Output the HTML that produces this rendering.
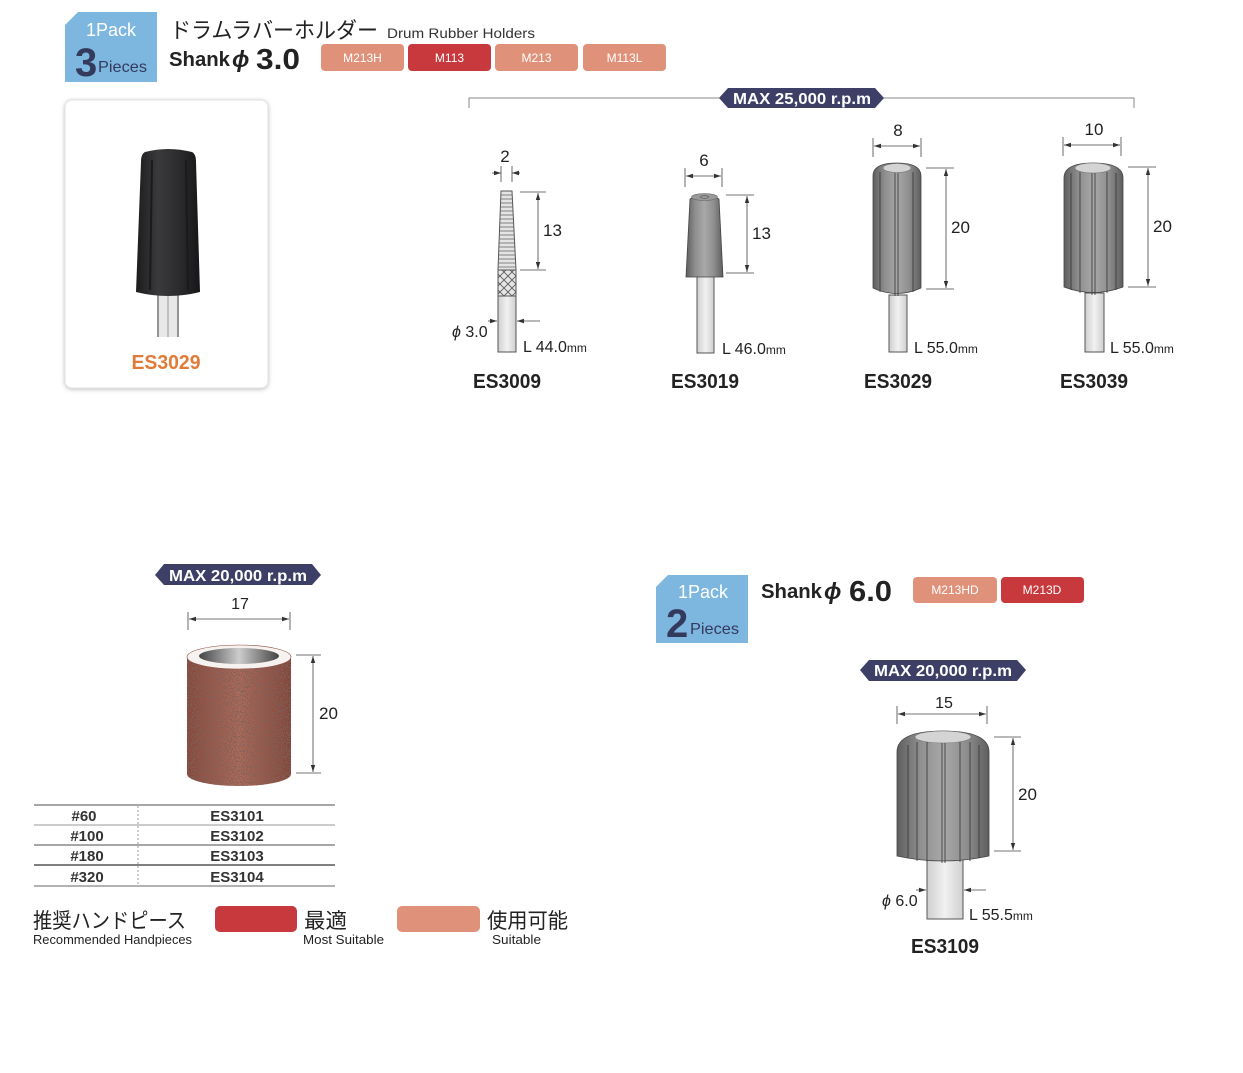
<!DOCTYPE html>
<html><head><meta charset="utf-8">
<style>
html,body{margin:0;padding:0;background:#fff;}
svg{display:block;}
text{font-family:"Liberation Sans","Noto Sans CJK JP",sans-serif;}
</style></head>
<body>
<svg width="1243" height="1073" viewBox="0 0 1243 1073" xmlns="http://www.w3.org/2000/svg">
<defs>
  <marker id="ar" markerWidth="8" markerHeight="6" refX="7" refY="3" orient="auto-start-reverse" markerUnits="userSpaceOnUse">
    <path d="M0,0.8 L7,3 L0,5.2 z" fill="#333"/>
  </marker>
  <linearGradient id="rub" x1="0" x2="1" y1="0" y2="0">
    <stop offset="0" stop-color="#5e5e5e"/>
    <stop offset="0.25" stop-color="#8f8f8f"/>
    <stop offset="0.5" stop-color="#a8a8a8"/>
    <stop offset="0.75" stop-color="#8f8f8f"/>
    <stop offset="1" stop-color="#5e5e5e"/>
  </linearGradient>
  <linearGradient id="sh" x1="0" x2="1" y1="0" y2="0">
    <stop offset="0" stop-color="#cfcfcf"/>
    <stop offset="0.5" stop-color="#f1f1f1"/>
    <stop offset="1" stop-color="#cfcfcf"/>
  </linearGradient>
  <linearGradient id="blk" x1="0" x2="1" y1="0" y2="0">
    <stop offset="0" stop-color="#1c1c1e"/>
    <stop offset="0.35" stop-color="#3a3a3d"/>
    <stop offset="0.7" stop-color="#2a2a2c"/>
    <stop offset="1" stop-color="#161618"/>
  </linearGradient>
  <linearGradient id="band" x1="0" x2="1" y1="0" y2="0">
    <stop offset="0" stop-color="#874537"/>
    <stop offset="0.5" stop-color="#b06a58"/>
    <stop offset="1" stop-color="#834335"/>
  </linearGradient>
  <linearGradient id="hole" x1="0" x2="1" y1="0" y2="0">
    <stop offset="0" stop-color="#444"/>
    <stop offset="0.5" stop-color="#ccc"/>
    <stop offset="1" stop-color="#444"/>
  </linearGradient>
  <filter id="speck" x="0" y="0" width="1" height="1">
    <feTurbulence type="fractalNoise" baseFrequency="0.8" numOctaves="3" seed="7"/>
    <feColorMatrix type="matrix" values="0 0 0 0 0.2  0 0 0 0 0.12  0 0 0 0 0.11  14 0 0 0 -7.2"/>
  </filter>
  <clipPath id="bandclip"><path d="M187,657 A52,12 0 0 1 291,657 L291,774 A52,12 0 0 1 187,774 Z"/></clipPath>
  <pattern id="knurl" width="8" height="8" patternUnits="userSpaceOnUse">
    <path d="M0,0 L8,8 M8,0 L0,8" stroke="#555" stroke-width="0.8"/>
  </pattern>
  <filter id="shadow" x="-10%" y="-10%" width="120%" height="120%">
    <feDropShadow dx="0" dy="1" stdDeviation="2" flood-color="#000" flood-opacity="0.25"/>
  </filter>
</defs>

<!-- ===== Top header ===== -->
<path d="M78,12 L157,12 L157,82 L65,82 L65,25 Z" fill="#7db7e0"/>
<text x="111" y="36" font-size="18" fill="#fff" text-anchor="middle">1Pack</text>
<text x="75" y="76" font-size="40" font-weight="bold" fill="#333a5c">3</text>
<text x="98" y="72" font-size="16" fill="#333a5c" textLength="49" lengthAdjust="spacingAndGlyphs">Pieces</text>

<text x="170" y="38" font-size="22" fill="#222" textLength="208" lengthAdjust="spacingAndGlyphs">ドラムラバーホルダー</text>
<text x="387" y="38" font-size="14" fill="#333" textLength="148" lengthAdjust="spacingAndGlyphs">Drum Rubber Holders</text>
<text x="169" y="66" font-size="20" font-weight="bold" fill="#222" textLength="61" lengthAdjust="spacingAndGlyphs">Shank</text>
<text x="232" y="67" font-size="23" font-style="italic" font-weight="bold" fill="#222">ϕ</text>
<text x="256" y="69" font-size="29" font-weight="bold" fill="#222" textLength="44" lengthAdjust="spacingAndGlyphs">3.0</text>

<rect x="321" y="44" width="83" height="27" rx="4" fill="#e0917a"/>
<text x="362.5" y="62" font-size="12" fill="#fff" text-anchor="middle">M213H</text>
<rect x="408" y="44" width="83" height="27" rx="4" fill="#c8393d"/>
<text x="449.5" y="62" font-size="12" fill="#fff" text-anchor="middle">M113</text>
<rect x="495" y="44" width="83" height="27" rx="4" fill="#e0917a"/>
<text x="536.5" y="62" font-size="12" fill="#fff" text-anchor="middle">M213</text>
<rect x="583" y="44" width="83" height="27" rx="4" fill="#e0917a"/>
<text x="624.5" y="62" font-size="12" fill="#fff" text-anchor="middle">M113L</text>

<!-- ===== Left card ===== -->
<rect x="65" y="100" width="203" height="288" rx="7" fill="#fff" stroke="#e2e2e2" filter="url(#shadow)"/>
<rect x="157" y="292" width="22" height="45" fill="#e8e8e8"/>
<line x1="158" y1="292" x2="158" y2="337" stroke="#777" stroke-width="1.5"/>
<line x1="168" y1="292" x2="168" y2="337" stroke="#999" stroke-width="1"/>
<line x1="178" y1="292" x2="178" y2="337" stroke="#777" stroke-width="1.5"/>
<path d="M145,152 Q168,146 192,152 Q196,154 196,162 L200,292 Q168,300 136,292 L141,162 Q141,154 145,152 Z" fill="url(#blk)"/>
<line x1="152" y1="160" x2="150" y2="290" stroke="#1a1a1a" stroke-width="2"/>
<line x1="186" y1="160" x2="188" y2="290" stroke="#1a1a1a" stroke-width="2"/>
<text x="166" y="369" font-size="20" font-weight="bold" fill="#e07b39" text-anchor="middle" textLength="69" lengthAdjust="spacingAndGlyphs">ES3029</text>

<!-- ===== MAX 25,000 bar ===== -->
<polyline points="469,108 469,98 722,98" fill="none" stroke="#888" stroke-width="1"/>
<polyline points="880,98 1134,98 1134,108" fill="none" stroke="#888" stroke-width="1"/>
<polygon points="719,98 728,88 875,88 884,98 875,108 728,108" fill="#3d3f66"/>
<text x="802" y="104" font-size="16" font-weight="bold" fill="#fff" text-anchor="middle" textLength="138" lengthAdjust="spacingAndGlyphs">MAX 25,000 r.p.m</text>

<!-- ===== ES3009 ===== -->
<rect x="498" y="296" width="18" height="56" fill="url(#sh)" stroke="#555" stroke-width="1"/>
<rect x="498" y="270" width="18" height="26" fill="#e6e6e6"/>
<rect x="498" y="270" width="18" height="26" fill="url(#knurl)" stroke="#555" stroke-width="1"/>
<path d="M501,191 L512,191 L516,270 L498,270 Z" fill="#e4e4e4" stroke="#555" stroke-width="1"/>
<g stroke="#666" stroke-width="0.8">
<line x1="501" y1="195" x2="512" y2="195"/><line x1="501" y1="199" x2="512" y2="199"/>
<line x1="501" y1="203" x2="512" y2="203"/><line x1="500" y1="207" x2="513" y2="207"/>
<line x1="500" y1="211" x2="513" y2="211"/><line x1="500" y1="215" x2="513" y2="215"/>
<line x1="500" y1="219" x2="513" y2="219"/><line x1="500" y1="223" x2="514" y2="223"/>
<line x1="500" y1="227" x2="514" y2="227"/><line x1="500" y1="231" x2="514" y2="231"/>
<line x1="499" y1="235" x2="514" y2="235"/><line x1="499" y1="239" x2="514" y2="239"/>
<line x1="499" y1="243" x2="515" y2="243"/><line x1="499" y1="247" x2="515" y2="247"/>
<line x1="499" y1="251" x2="515" y2="251"/><line x1="499" y1="255" x2="515" y2="255"/>
<line x1="499" y1="259" x2="515" y2="259"/><line x1="498" y1="263" x2="516" y2="263"/>
<line x1="498" y1="267" x2="516" y2="267"/>
</g>
<text x="505" y="162" font-size="17" fill="#222" text-anchor="middle">2</text>
<g stroke="#444" stroke-width="0.8" fill="none">
<line x1="501" y1="166" x2="501" y2="182"/><line x1="512" y1="166" x2="512" y2="182"/>
<line x1="492" y1="173" x2="501" y2="173" marker-end="url(#ar)"/>
<line x1="520" y1="173" x2="512" y2="173" marker-end="url(#ar)"/>
<line x1="520" y1="192" x2="546" y2="192"/><line x1="520" y1="270" x2="546" y2="270"/>
<line x1="538" y1="193" x2="538" y2="269" marker-start="url(#ar)" marker-end="url(#ar)"/>
<line x1="488" y1="321" x2="497" y2="321" marker-end="url(#ar)"/>
<line x1="540" y1="321" x2="517" y2="321" marker-end="url(#ar)"/>
</g>
<text x="543" y="236" font-size="17" fill="#222">13</text>
<text x="452" y="337" font-size="16" fill="#222"><tspan font-style="italic">ϕ</tspan> 3.0</text>
<text x="523" y="352" font-size="16" fill="#222">L 44.0<tspan font-size="12">mm</tspan></text>
<text x="507" y="388" font-size="20" font-weight="bold" fill="#222" text-anchor="middle" textLength="68" lengthAdjust="spacingAndGlyphs">ES3009</text>

<!-- ===== ES3019 ===== -->
<rect x="697" y="276" width="17" height="77" fill="url(#sh)" stroke="#555" stroke-width="1"/>
<path d="M690,199 Q704,191 719,199 L723,277 L686,277 Z" fill="url(#rub)" stroke="#444" stroke-width="0.8"/>
<ellipse cx="704.5" cy="197" rx="13" ry="3.5" fill="#9a9a9a" stroke="#666" stroke-width="0.6"/>
<ellipse cx="704.5" cy="197" rx="4" ry="1.3" fill="none" stroke="#555" stroke-width="0.6"/>
<text x="704" y="166" font-size="17" fill="#222" text-anchor="middle">6</text>
<g stroke="#444" stroke-width="0.8" fill="none">
<line x1="685" y1="168" x2="685" y2="187"/><line x1="722" y1="168" x2="722" y2="187"/>
<line x1="686" y1="176" x2="721" y2="176" marker-start="url(#ar)" marker-end="url(#ar)"/>
<line x1="726" y1="195" x2="754" y2="195"/><line x1="726" y1="273" x2="754" y2="273"/>
<line x1="747" y1="196" x2="747" y2="272" marker-start="url(#ar)" marker-end="url(#ar)"/>
</g>
<text x="752" y="239" font-size="17" fill="#222">13</text>
<text x="722" y="354" font-size="16" fill="#222">L 46.0<tspan font-size="12">mm</tspan></text>
<text x="705" y="388" font-size="20" font-weight="bold" fill="#222" text-anchor="middle" textLength="68" lengthAdjust="spacingAndGlyphs">ES3019</text>

<!-- ===== ES3029 ===== -->
<rect x="889" y="295" width="18" height="57" fill="url(#sh)" stroke="#555" stroke-width="1"/>
<path d="M873,176 Q873,163 897,163 Q921,163 921,176 L921,288 Q897,299 873,288 Z" fill="url(#rub)" stroke="#444" stroke-width="0.8"/>
<ellipse cx="897" cy="168" rx="14" ry="4.5" fill="#d4d4d4" stroke="#777" stroke-width="0.6"/>
<g stroke="#333" stroke-width="0.8">
<line x1="880" y1="172" x2="880" y2="292"/><line x1="895" y1="173" x2="895" y2="296"/>
<line x1="898" y1="173" x2="898" y2="296"/><line x1="913" y1="172" x2="913" y2="292"/>
</g>
<text x="898" y="136" font-size="17" fill="#222" text-anchor="middle">8</text>
<g stroke="#444" stroke-width="0.8" fill="none">
<line x1="873" y1="138" x2="873" y2="157"/><line x1="921" y1="138" x2="921" y2="157"/>
<line x1="874" y1="146" x2="920" y2="146" marker-start="url(#ar)" marker-end="url(#ar)"/>
<line x1="926" y1="168" x2="954" y2="168"/><line x1="926" y1="289" x2="954" y2="289"/>
<line x1="946" y1="169" x2="946" y2="288" marker-start="url(#ar)" marker-end="url(#ar)"/>
</g>
<text x="951" y="233" font-size="17" fill="#222">20</text>
<text x="914" y="353" font-size="16" fill="#222">L 55.0<tspan font-size="12">mm</tspan></text>
<text x="898" y="388" font-size="20" font-weight="bold" fill="#222" text-anchor="middle" textLength="68" lengthAdjust="spacingAndGlyphs">ES3029</text>

<!-- ===== ES3039 ===== -->
<rect x="1085" y="293" width="19" height="59" fill="url(#sh)" stroke="#555" stroke-width="1"/>
<path d="M1064,178 Q1064,163 1093,163 Q1123,163 1123,178 L1123,287 Q1093,298 1064,287 Z" fill="url(#rub)" stroke="#444" stroke-width="0.8"/>
<ellipse cx="1093" cy="168" rx="18" ry="5" fill="#d4d4d4" stroke="#777" stroke-width="0.6"/>
<g stroke="#333" stroke-width="0.8">
<line x1="1071" y1="173" x2="1071" y2="290"/><line x1="1080" y1="172" x2="1080" y2="293"/>
<line x1="1092" y1="173" x2="1092" y2="295"/><line x1="1095" y1="173" x2="1095" y2="295"/>
<line x1="1107" y1="172" x2="1107" y2="293"/><line x1="1116" y1="173" x2="1116" y2="290"/>
</g>
<text x="1094" y="135" font-size="17" fill="#222" text-anchor="middle">10</text>
<g stroke="#444" stroke-width="0.8" fill="none">
<line x1="1063" y1="137" x2="1063" y2="156"/><line x1="1121" y1="137" x2="1121" y2="156"/>
<line x1="1064" y1="145" x2="1120" y2="145" marker-start="url(#ar)" marker-end="url(#ar)"/>
<line x1="1128" y1="167" x2="1156" y2="167"/><line x1="1128" y1="287" x2="1156" y2="287"/>
<line x1="1148" y1="168" x2="1148" y2="286" marker-start="url(#ar)" marker-end="url(#ar)"/>
</g>
<text x="1153" y="232" font-size="17" fill="#222">20</text>
<text x="1110" y="353" font-size="16" fill="#222">L 55.0<tspan font-size="12">mm</tspan></text>
<text x="1094" y="388" font-size="20" font-weight="bold" fill="#222" text-anchor="middle" textLength="68" lengthAdjust="spacingAndGlyphs">ES3039</text>

<!-- ===== Sanding band ===== -->
<polygon points="155,575 164,564 312,564 321,575 312,585 164,585" fill="#3d3f66"/>
<text x="238" y="581" font-size="16" font-weight="bold" fill="#fff" text-anchor="middle" textLength="138" lengthAdjust="spacingAndGlyphs">MAX 20,000 r.p.m</text>
<text x="240" y="609" font-size="16" fill="#222" text-anchor="middle">17</text>
<g stroke="#444" stroke-width="0.8" fill="none">
<line x1="188" y1="612" x2="188" y2="630"/><line x1="290" y1="612" x2="290" y2="630"/>
<line x1="189" y1="619" x2="289" y2="619" marker-start="url(#ar)" marker-end="url(#ar)"/>
<line x1="296" y1="655" x2="321" y2="655"/><line x1="296" y1="773" x2="321" y2="773"/>
<line x1="313" y1="656" x2="313" y2="772" marker-start="url(#ar)" marker-end="url(#ar)"/>
</g>
<text x="319" y="719" font-size="17" fill="#222">20</text>
<g clip-path="url(#bandclip)">
  <rect x="186" y="640" width="106" height="150" fill="url(#band)"/>
  <rect x="186" y="640" width="106" height="150" filter="url(#speck)"/>
</g>
<ellipse cx="239" cy="657" rx="52" ry="12" fill="#f6f2f0" stroke="#8e4f40" stroke-width="0.6"/>
<ellipse cx="239" cy="656" rx="40" ry="8" fill="url(#hole)"/>

<!-- table -->
<g fill="none">
<line x1="34" y1="805" x2="335" y2="805" stroke="#888" stroke-width="1.5"/>
<line x1="34" y1="825" x2="335" y2="825" stroke="#999" stroke-width="1"/>
<line x1="34" y1="845" x2="335" y2="845" stroke="#888" stroke-width="1.5"/>
<line x1="34" y1="865" x2="335" y2="865" stroke="#333" stroke-width="1.2"/>
<line x1="34" y1="886" x2="335" y2="886" stroke="#999" stroke-width="1.5"/>
<line x1="138" y1="806" x2="138" y2="885" stroke="#888" stroke-width="0.8" stroke-dasharray="2,2"/>
</g>
<g font-size="15" font-weight="bold" fill="#333" text-anchor="middle">
<text x="84" y="821">#60</text><text x="237" y="821">ES3101</text>
<text x="87" y="841">#100</text><text x="237" y="841">ES3102</text>
<text x="87" y="861">#180</text><text x="237" y="861">ES3103</text>
<text x="87" y="882">#320</text><text x="237" y="882">ES3104</text>
</g>

<!-- legend -->
<text x="33" y="928" font-size="21" fill="#222" textLength="153" lengthAdjust="spacingAndGlyphs">推奨ハンドピース</text>
<text x="33" y="944" font-size="12.5" fill="#222" textLength="159" lengthAdjust="spacingAndGlyphs">Recommended Handpieces</text>
<rect x="215" y="906" width="82" height="26" rx="5" fill="#c8393d"/>
<text x="304" y="928" font-size="21" fill="#222" textLength="43" lengthAdjust="spacingAndGlyphs">最適</text>
<text x="303" y="944" font-size="12.5" fill="#222" textLength="81" lengthAdjust="spacingAndGlyphs">Most Suitable</text>
<rect x="397" y="906" width="83" height="26" rx="5" fill="#e0917a"/>
<text x="487" y="928" font-size="21" fill="#222" textLength="81" lengthAdjust="spacingAndGlyphs">使用可能</text>
<text x="492" y="944" font-size="12.5" fill="#222" textLength="49" lengthAdjust="spacingAndGlyphs">Suitable</text>

<!-- ===== Shank 6.0 section ===== -->
<path d="M668,575 L748,575 L748,643 L656,643 L656,587 Z" fill="#7db7e0"/>
<text x="703" y="598" font-size="18" fill="#fff" text-anchor="middle">1Pack</text>
<text x="666" y="637" font-size="40" font-weight="bold" fill="#333a5c">2</text>
<text x="690" y="634" font-size="16" fill="#333a5c" textLength="49" lengthAdjust="spacingAndGlyphs">Pieces</text>
<text x="761" y="598" font-size="20" font-weight="bold" fill="#222" textLength="61" lengthAdjust="spacingAndGlyphs">Shank</text>
<text x="824" y="599" font-size="23" font-style="italic" font-weight="bold" fill="#222">ϕ</text>
<text x="849" y="601" font-size="29" font-weight="bold" fill="#222" textLength="43" lengthAdjust="spacingAndGlyphs">6.0</text>
<rect x="913" y="577" width="84" height="26" rx="4" fill="#e0917a"/>
<text x="955" y="594" font-size="12" fill="#fff" text-anchor="middle">M213HD</text>
<rect x="1001" y="577" width="83" height="26" rx="4" fill="#c8393d"/>
<text x="1042" y="594" font-size="12" fill="#fff" text-anchor="middle">M213D</text>

<polygon points="860,670 869,660 1017,660 1026,670 1017,681 869,681" fill="#3d3f66"/>
<text x="943" y="676" font-size="16" font-weight="bold" fill="#fff" text-anchor="middle" textLength="138" lengthAdjust="spacingAndGlyphs">MAX 20,000 r.p.m</text>

<text x="944" y="708" font-size="16" fill="#222" text-anchor="middle">15</text>
<g stroke="#444" stroke-width="0.8" fill="none">
<line x1="897" y1="706" x2="897" y2="724"/><line x1="987" y1="706" x2="987" y2="724"/>
<line x1="898" y1="714" x2="986" y2="714" marker-start="url(#ar)" marker-end="url(#ar)"/>
<line x1="994" y1="737" x2="1021" y2="737"/><line x1="994" y1="851" x2="1021" y2="851"/>
<line x1="1013" y1="738" x2="1013" y2="850" marker-start="url(#ar)" marker-end="url(#ar)"/>
<line x1="916" y1="890" x2="926" y2="890" marker-end="url(#ar)"/>
<line x1="986" y1="890" x2="964" y2="890" marker-end="url(#ar)"/>
</g>
<text x="1018" y="800" font-size="17" fill="#222">20</text>
<rect x="927" y="858" width="36" height="61" fill="url(#sh)" stroke="#555" stroke-width="1"/>
<path d="M897,752 Q897,731 943,731 Q989,731 989,752 L989,856 Q943,866 897,856 Z" fill="url(#rub)" stroke="#444" stroke-width="0.8"/>
<ellipse cx="943" cy="737" rx="28" ry="6" fill="#d4d4d4" stroke="#777" stroke-width="0.6"/>
<g stroke="#333" stroke-width="0.8">
<line x1="908" y1="745" x2="908" y2="858"/><line x1="917" y1="742" x2="917" y2="861"/>
<line x1="927" y1="742" x2="927" y2="862"/><line x1="942" y1="743" x2="942" y2="863"/>
<line x1="945" y1="743" x2="945" y2="863"/><line x1="960" y1="742" x2="960" y2="862"/>
<line x1="970" y1="742" x2="970" y2="861"/><line x1="979" y1="745" x2="979" y2="858"/>
</g>
<text x="882" y="906" font-size="16" fill="#222"><tspan font-style="italic">ϕ</tspan> 6.0</text>
<text x="969" y="920" font-size="16" fill="#222">L 55.5<tspan font-size="12">mm</tspan></text>
<text x="945" y="953" font-size="20" font-weight="bold" fill="#222" text-anchor="middle" textLength="68" lengthAdjust="spacingAndGlyphs">ES3109</text>
</svg>
</body></html>
